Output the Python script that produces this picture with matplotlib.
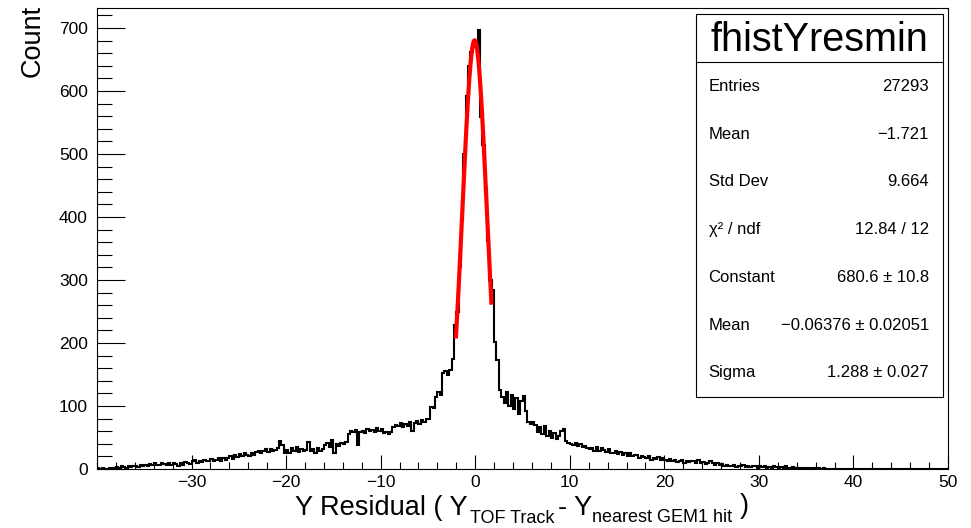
import numpy as np
import matplotlib
matplotlib.use("Agg")
import matplotlib.pyplot as plt
from matplotlib.ticker import MultipleLocator
from matplotlib.patches import Rectangle
from matplotlib.lines import Line2D

# ---------------- data ----------------
x_min, x_max, bin_width = -40.0, 50.0, 0.25

# bin contents, 4 bins per unit, from -40 up to 0
counts_left = [
    1, 0, 1, 0,        # -40
    0, 1, 2, 1,        # -39
    3, 2, 4, 3,        # -38
    2, 4, 3, 5,        # -37
    4, 3, 6, 5,        # -36
    7, 5, 8, 6,        # -35
    9, 7, 6, 10,       # -34
    8, 6, 9, 7,        # -33
    10, 8, 5, 9,       # -32
    7, 11, 9, 8,       # -31
    12, 14, 10, 13,    # -30
    11, 15, 13, 12,    # -29
    16, 12, 14, 17,    # -28
    13, 17, 15, 18,    # -27
    20, 16, 22, 19,    # -26
    24, 21, 25, 22,    # -25
    20, 26, 23, 27,    # -24
    29, 25, 28, 31,    # -23
    27, 32, 29, 30,    # -22
    34, 44, 38, 26,    # -21
    30, 25, 33, 28,    # -20
    35, 27, 31, 29,    # -19
    30, 43, 28, 31,    # -18
    26, 33, 29, 31,    # -17
    38, 42, 35, 46,    # -16
    25, 39, 36, 41,    # -15
    40, 43, 56, 60,    # -14
    58, 62, 38, 59,    # -13
    61, 57, 64, 60,    # -12
    62, 58, 65, 60,    # -11
    63, 57, 58, 56,    # -10
    59, 66, 70, 68,    # -9
    73, 66, 71, 69,    # -8
    75, 60, 73, 76,    # -7
    72, 78, 74, 80,    # -6
    80, 99, 97, 115,   # -5
    122, 118, 152, 155,  # -4
    150, 157, 175, 228,  # -3
    250, 320, 395, 500,  # -2
    592, 640, 662, 672,  # -1
]

# bin contents from 0 up to 50
counts_right = [
    670, 697, 559, 515,  # 0
    445, 362, 300, 284,  # 1
    202, 173, 125, 115,  # 2
    104, 122, 100, 118,  # 3
    95, 112, 88, 108,    # 4
    116, 92, 74, 71,     # 5
    75, 70, 58, 66,      # 6
    55, 68, 52, 61,      # 7
    50, 57, 48, 53,      # 8
    60, 64, 44, 41,      # 9
    40, 38, 42, 36,      # 10
    39, 35, 37, 33,      # 11
    31, 34, 29, 35,      # 12
    28, 33, 30, 27,      # 13
    31, 26, 25, 28,      # 14
    24, 27, 22, 25,      # 15
    21, 26, 20, 23,      # 16
    22, 18, 21, 19,      # 17
    17, 20, 15, 18,      # 18
    16, 19, 14, 17,      # 19
    15, 13, 16, 12,      # 20
    14, 11, 13, 15,      # 21
    10, 13, 11, 12,      # 22
    12, 9, 14, 10,       # 23
    11, 8, 10, 12,       # 24
    9, 7, 10, 6,         # 25
    8, 5, 7, 4,          # 26
    5, 6, 3, 5,          # 27
    4, 6, 3, 5,          # 28
    3, 5, 4, 2,          # 29
    4, 3, 5, 2,          # 30
    3, 2, 4, 3,          # 31
    2, 3, 1, 4,          # 32
    2, 1, 3, 2,          # 33
    1, 2, 1, 0,          # 34
    1, 0, 2, 1,          # 35
    0, 1, 0, 1,          # 36
    0, 0, 0, 0,          # 37
    0, 0, 0, 0,  0, 0, 0, 0,  0, 0, 0, 0,  0, 0, 0, 0,   # 38-41
    0, 0, 0, 0,  0, 0, 0, 0,  0, 0, 0, 0,  0, 0, 0, 0,   # 42-45
    0, 0, 0, 0,  0, 0, 0, 0,  0, 0, 0, 0,  0, 0, 0, 0,   # 46-49
]

# Gaussian fit result (constant, mean, sigma) and fit range
fit_params = [680.6, -0.06376, 1.288]
fit_range = [-2.05, 1.72]

# statistics box
stats_title = "fhistYresmin"
stats_labels = ["Entries", "Mean", "Std Dev", "\u03c7\u00b2 / ndf",
                "Constant", "Mean", "Sigma"]
stats_values = ["27293", "\u22121.721", "9.664", "12.84 / 12",
                "680.6 \u00b1 10.8", "\u22120.06376 \u00b1 0.02051",
                "1.288 \u00b1 0.027"]

x_ticks = [-30, -20, -10, 0, 10, 20, 30, 40, 50]
y_ticks = [0, 100, 200, 300, 400, 500, 600, 700]

# ---------------- drawing ----------------
FONT = ["Liberation Sans", "DejaVu Sans"]

W, H = 971, 528
fig = plt.figure(figsize=(W / 100, H / 100), dpi=100)
fig.patch.set_facecolor("white")


def fx(px):
    return px / W


def fy(py):
    return 1 - py / H


ax_l, ax_r, ax_t, ax_b = 97, 948, 8, 469
ax = fig.add_axes([fx(ax_l), fy(ax_b), (ax_r - ax_l) / W, (ax_b - ax_t) / H])

counts = np.array(counts_left + counts_right, dtype=float)
nbins = len(counts)
edges = x_min + bin_width * np.arange(nbins + 1)
ax.stairs(counts, edges, color="black", lw=1.5, baseline=0)

A, mu, sig = fit_params
xf = np.linspace(fit_range[0], fit_range[1], 300)
ax.plot(xf, A * np.exp(-0.5 * ((xf - mu) / sig) ** 2), color="red", lw=3,
        solid_capstyle="butt")

ax.set_xlim(x_min, x_max)
ax.set_ylim(0, 1.05 * counts.max())

ax.xaxis.set_major_locator(MultipleLocator(10))
ax.xaxis.set_minor_locator(MultipleLocator(2))
ax.yaxis.set_major_locator(MultipleLocator(100))
ax.yaxis.set_minor_locator(MultipleLocator(20))
ax.set_xticks(x_ticks)
ax.set_yticks(y_ticks)

ax.xaxis.set_tick_params(which="major", direction="in", length=10, width=0.8,
                         pad=4.5, top=False)
ax.xaxis.set_tick_params(which="minor", direction="in", length=5, width=0.8,
                         top=False)
ax.yaxis.set_tick_params(which="major", direction="in", length=20, width=0.8,
                         pad=6.5, right=False)
ax.yaxis.set_tick_params(which="minor", direction="in", length=10.5, width=0.8,
                         right=False)
for lab in ax.get_xticklabels() + ax.get_yticklabels():
    lab.set_fontfamily(FONT)
    lab.set_fontsize(12.5)
for sp in ax.spines.values():
    sp.set_linewidth(0.8)
    sp.set_color("black")

# x-axis title built from pieces (main text + subscripts)
main_fs, sub_fs = 19.5, 13
fig.text(fx(295), fy(515), "Y Residual ( Y", fontsize=main_fs, family=FONT,
         ha="left", va="baseline")
fig.text(fx(470), fy(523), "TOF Track", fontsize=sub_fs, family=FONT,
         ha="left", va="baseline")
fig.text(fx(558), fy(515), "- Y", fontsize=main_fs, family=FONT,
         ha="left", va="baseline")
fig.text(fx(592), fy(522), "nearest GEM1 hit", fontsize=sub_fs,
         family=FONT, ha="left", va="baseline")
fig.text(fx(740), fy(513), ")", fontsize=main_fs, family=FONT,
         ha="left", va="baseline")

# y-axis title
fig.text(fx(33), fy(5), "Count", fontsize=main_fs, family=FONT,
         rotation=90, ha="center", va="top")

# statistics box
bx_l, bx_r, bx_t, bx_b = 696, 943, 14, 397
fig.add_artist(Rectangle((fx(bx_l), fy(bx_b)), (bx_r - bx_l) / W,
                         (bx_b - bx_t) / H, transform=fig.transFigure,
                         facecolor="white", edgecolor="black", lw=0.8,
                         zorder=5))
fig.add_artist(Line2D([fx(bx_l), fx(bx_r)], [fy(62), fy(62)],
                      transform=fig.transFigure, color="black", lw=0.8,
                      zorder=6))
fig.text(fx(819.5), fy(40), stats_title, fontsize=28.5, family=FONT,
         ha="center", va="center", zorder=7)
for i, (lab, val) in enumerate(zip(stats_labels, stats_values)):
    yy = 86.5 + 47.7 * i
    fig.text(fx(708.5), fy(yy), lab, fontsize=12, family=FONT, ha="left",
             va="center", zorder=7)
    fig.text(fx(929), fy(yy), val, fontsize=12, family=FONT, ha="right",
             va="center", zorder=7)

fig.savefig("out.png", dpi=100)
